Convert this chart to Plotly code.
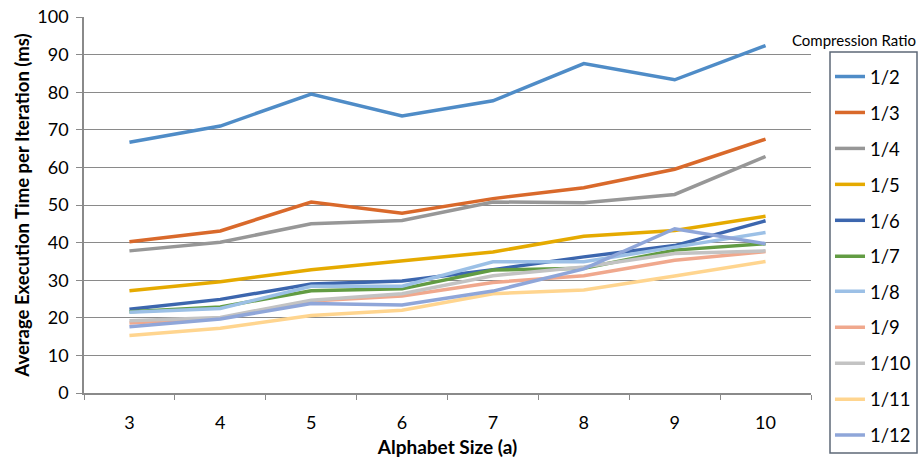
import plotly.graph_objects as go

alphabet_sizes = ["3", "4", "5", "6", "7", "8", "9", "10"]

ratio_labels = ["1/2", "1/3", "1/4", "1/5", "1/6", "1/7",
                "1/8", "1/9", "1/10", "1/11", "1/12"]

ratio_1_2 = [66.7, 71.0, 79.5, 73.7, 77.7, 87.6, 83.3, 92.4]
ratio_1_3 = [40.2, 43.1, 50.8, 47.8, 51.7, 54.6, 59.5, 67.5]
ratio_1_4 = [37.8, 40.1, 45.0, 45.9, 50.8, 50.6, 52.8, 62.9]
ratio_1_5 = [27.2, 29.6, 32.8, 35.1, 37.5, 41.7, 43.2, 47.0]
ratio_1_6 = [22.3, 24.9, 29.0, 29.8, 32.8, 36.2, 39.2, 45.8]
ratio_1_7 = [21.6, 22.9, 27.2, 27.7, 32.7, 33.2, 38.0, 39.7]
ratio_1_8 = [21.5, 22.5, 28.4, 28.4, 34.9, 34.9, 38.8, 42.7]
ratio_1_9 = [18.6, 19.9, 24.5, 25.8, 29.4, 31.2, 35.3, 37.6]
ratio_1_10 = [19.2, 20.1, 24.7, 26.4, 31.2, 33.5, 37.1, 37.8]
ratio_1_11 = [15.3, 17.2, 20.6, 22.0, 26.4, 27.4, 31.1, 35.0]
ratio_1_12 = [17.6, 19.7, 23.8, 23.4, 27.1, 33.0, 43.7, 39.7]

series_values = [ratio_1_2, ratio_1_3, ratio_1_4, ratio_1_5, ratio_1_6, ratio_1_7,
                 ratio_1_8, ratio_1_9, ratio_1_10, ratio_1_11, ratio_1_12]

line_colors = ["#4f8cc7", "#d9692b", "#979797", "#e5aa00", "#3c66ae", "#629c43",
               "#9cc0e6", "#f0a88d", "#c3c3c3", "#ffd58f", "#8fa6d9"]

FONT = "Lato, 'Open Sans', sans-serif"
GRID = "#8a8a8a"

# The legend is taller than the plot area, so it is split over two stacked
# legends that share one drawn frame.
fig = go.Figure()
for i, (name, vals, color) in enumerate(zip(ratio_labels, series_values, line_colors)):
    fig.add_trace(go.Scatter(
        x=alphabet_sizes, y=vals, name=name, mode="lines",
        legendgroup=name,
        legend="legend" if i < 6 else "legend2",
        line=dict(color=color, width=3.5),
    ))

legend_common = dict(
    xanchor="left", yanchor="top",
    borderwidth=0, bgcolor="rgba(0,0,0,0)",
    font=dict(size=18.5, family=FONT),
    tracegroupgap=8.9, itemwidth=30,
    traceorder="grouped",
)

fig.update_layout(
    width=920, height=458,
    margin=dict(l=84, r=109, t=17, b=65, autoexpand=False),
    paper_bgcolor="white", plot_bgcolor="white",
    font=dict(family=FONT, color="#000000", size=18),
    showlegend=True,
    legend=dict(x=1.0261, y=0.891, **legend_common),
    legend2=dict(x=1.0261, y=0.3197, **legend_common),
    xaxis=dict(
        type="category", showgrid=False, range=[-0.5, 7.5],
        showline=True, linecolor=GRID, linewidth=1.5,
        ticks="outside", tickson="boundaries", ticklen=5, tickcolor=GRID,
        tickfont=dict(size=18, family=FONT), ticklabelstandoff=13,
        title=dict(text="<b>Alphabet Size (a)</b>", font=dict(size=19, family=FONT), standoff=10),
    ),
    yaxis=dict(
        range=[0, 100], dtick=10, showgrid=True, gridcolor=GRID, gridwidth=1.2,
        showline=True, linecolor=GRID, linewidth=1.5,
        ticks="outside", ticklen=6, tickcolor=GRID,
        tickfont=dict(size=18, family=FONT), ticklabelstandoff=4,
        zeroline=False,
        title=dict(text="<b>Average Execution Time per Iteration (ms)</b>",
                   font=dict(size=18.5, family=FONT), standoff=3),
    ),
    shapes=[dict(
        type="rect", xref="paper", yref="paper",
        x0=(830 - 84) / 727, x1=(917 - 84) / 727,
        y0=(393 - 453) / 376, y1=(393 - 52) / 376,
        line=dict(color="#5d6877", width=1.5), fillcolor="rgba(0,0,0,0)",
        layer="above",
    )],
    annotations=[dict(
        text="Compression Ratio", xref="paper", yref="paper",
        x=(790 - 84) / 727, xanchor="left", y=0.939, yanchor="middle",
        showarrow=False, font=dict(size=15, family=FONT),
    )],
)

fig.write_html("out.html")
